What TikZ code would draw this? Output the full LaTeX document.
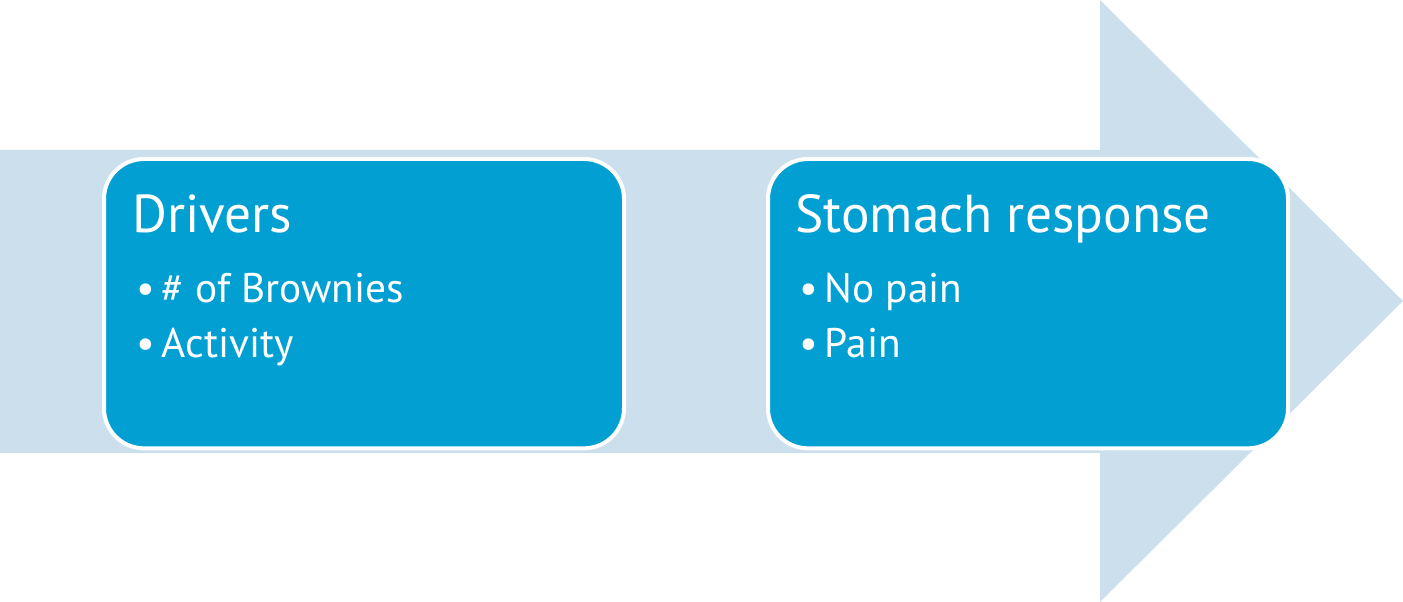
\documentclass[tikz,border=0pt]{standalone}
\usepackage{fontspec}
\setmainfont{PT Sans}
\definecolor{arrowblue}{RGB}{204,223,237}
\definecolor{boxblue}{RGB}{2,160,210}
\begin{document}
\begin{tikzpicture}[x=0.75pt,y=-0.75pt,
  bigarrow/.style={fill=arrowblue,draw=none},
  card/.style={draw=white,line width=3pt,fill=boxblue,rounded corners=30pt,
    minimum width=390pt,minimum height=217pt,inner sep=0pt,anchor=north west},
  heading/.style={text=white,font=\fontsize{40}{48}\selectfont,anchor=base west,inner sep=0pt},
  item/.style={text=white,font=\fontsize{31}{38}\selectfont,anchor=base west,inner sep=0pt}]
\useasboundingbox (0,0) rectangle (1403,602);
\fill[bigarrow] (0,150) -- (1100,150) -- (1100,0) -- (1403,301) -- (1100,602) -- (1100,453) -- (0,453) -- cycle;
\node[card] (left) at (102,157) {};
\node[card] (right) at (766,157) {};
\node[heading] (lh) at (132,233) {Drivers};
\node[item] (l1) at (136,303) {\textbullet\,\# of Brownies};
\node[item] (l2) at (136,357) {\textbullet\,Activity};
\node[heading] (rh) at (795,233) {Stomach response};
\node[item] (r1) at (799,303) {\textbullet\,No pain};
\node[item] (r2) at (799,357) {\textbullet\,Pain};
\end{tikzpicture}
\end{document}
